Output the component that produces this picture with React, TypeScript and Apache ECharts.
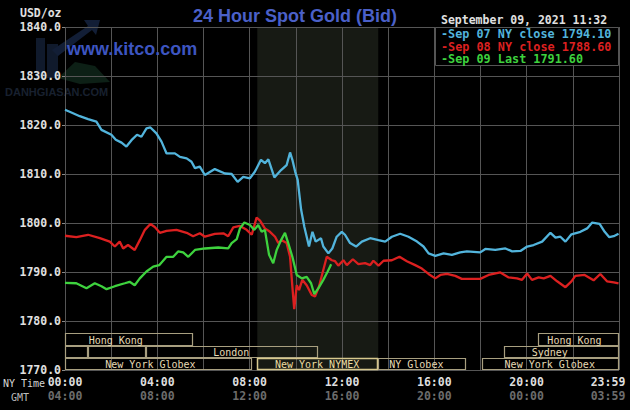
import React, { useEffect, useRef } from 'react';
import * as echarts from 'echarts';

// [hour of day (NY time), price USD/oz]
const sep07: [number, number][] = [
  [0.0, 1823.1], [0.3, 1822.5], [0.64, 1821.8], [1.0, 1821.2], [1.36, 1820.7], [1.58, 1819.0], [2.01, 1818.0], [2.2, 1817.0],
  [2.45, 1816.4], [2.66, 1815.6], [2.88, 1816.9], [3.12, 1818.0], [3.31, 1817.6], [3.53, 1819.3], [3.7, 1819.5], [3.96, 1818.3],
  [4.18, 1816.6], [4.4, 1814.2], [4.76, 1814.2], [4.98, 1813.5], [5.27, 1813.2], [5.48, 1812.5], [5.63, 1811.2], [5.84, 1811.5],
  [6.06, 1809.8], [6.49, 1811.0], [6.93, 1810.1], [7.22, 1810.0], [7.48, 1808.4], [7.72, 1809.4], [8.01, 1809.1], [8.23, 1810.5],
  [8.49, 1812.9], [8.66, 1812.2], [8.81, 1813.0], [9.07, 1809.3], [9.36, 1810.8], [9.6, 1811.8], [9.75, 1814.4], [9.85, 1812.9],
  [9.97, 1810.5], [10.08, 1808.8], [10.23, 1802.7], [10.37, 1799.2], [10.57, 1795.2], [10.72, 1798.2], [10.86, 1796.2], [11.09, 1796.9],
  [11.19, 1795.2], [11.41, 1793.8], [11.58, 1794.8], [11.77, 1797.2], [11.99, 1798.2], [12.13, 1797.6], [12.35, 1795.9], [12.61, 1795.2],
  [12.86, 1796.2], [13.22, 1796.9], [13.58, 1796.5], [13.87, 1796.2], [14.16, 1797.2], [14.52, 1797.8], [14.88, 1797.2], [15.25, 1796.2],
  [15.53, 1795.2], [15.75, 1793.8], [16.04, 1793.3], [16.4, 1793.8], [16.76, 1793.5], [17.12, 1794.0], [17.41, 1794.2], [17.99, 1794.0],
  [18.21, 1794.7], [18.64, 1794.5], [19.08, 1794.8], [19.37, 1794.2], [19.73, 1794.3], [20.02, 1795.2], [20.3, 1795.5], [20.67, 1796.2],
  [21.03, 1798.0], [21.25, 1797.0], [21.46, 1797.2], [21.68, 1796.2], [21.94, 1797.7], [22.33, 1798.2], [22.62, 1798.9], [22.84, 1800.1],
  [23.16, 1799.8], [23.38, 1798.2], [23.58, 1797.1], [23.77, 1797.3], [23.98, 1797.8],
];

const sep08: [number, number][] = [
  [0.0, 1797.4], [0.49, 1797.1], [1.0, 1797.6], [1.51, 1796.9], [1.94, 1796.2], [2.16, 1795.2], [2.37, 1796.2], [2.52, 1794.8],
  [2.73, 1795.5], [3.02, 1794.5], [3.24, 1796.5], [3.46, 1798.6], [3.7, 1799.8], [3.89, 1799.2], [4.11, 1798.0], [4.4, 1798.4],
  [4.83, 1798.6], [5.27, 1798.0], [5.55, 1797.3], [5.84, 1797.9], [6.06, 1797.2], [6.49, 1797.8], [6.86, 1797.9], [7.07, 1797.3],
  [7.29, 1799.1], [7.58, 1799.4], [7.87, 1798.6], [8.09, 1797.6], [8.3, 1801.1], [8.45, 1800.5], [8.66, 1798.9], [8.88, 1798.2],
  [9.1, 1797.2], [9.24, 1795.9], [9.39, 1796.5], [9.6, 1795.9], [9.75, 1793.1], [9.85, 1787.0], [9.93, 1782.4], [10.04, 1787.3],
  [10.14, 1786.3], [10.28, 1788.4], [10.47, 1787.3], [10.69, 1785.3], [10.83, 1785.0], [11.0, 1787.0], [11.19, 1790.4], [11.34, 1793.1],
  [11.56, 1792.4], [11.7, 1792.2], [11.84, 1791.3], [12.06, 1792.4], [12.21, 1791.4], [12.47, 1792.6], [12.71, 1791.6], [13.0, 1791.8],
  [13.22, 1791.4], [13.36, 1792.3], [13.58, 1791.3], [13.8, 1792.3], [14.16, 1792.4], [14.49, 1793.1], [14.81, 1792.2], [15.17, 1791.4],
  [15.46, 1790.7], [15.75, 1789.6], [16.04, 1788.7], [16.26, 1789.4], [16.55, 1789.6], [16.91, 1789.2], [17.19, 1788.6], [17.99, 1788.6],
  [18.35, 1789.4], [18.86, 1789.9], [19.22, 1788.9], [19.58, 1788.7], [19.8, 1788.4], [20.02, 1789.7], [20.23, 1788.4], [20.52, 1788.9],
  [20.74, 1788.7], [21.03, 1789.2], [21.32, 1788.1], [21.68, 1786.9], [21.94, 1788.1], [22.11, 1789.2], [22.51, 1789.4], [22.9, 1788.3],
  [23.19, 1789.6], [23.48, 1788.1], [23.77, 1787.9], [23.98, 1787.7],
];

const sep09: [number, number][] = [
  [0.0, 1787.8], [0.49, 1787.7], [0.93, 1786.7], [1.29, 1787.7], [1.58, 1787.1], [1.8, 1786.5], [2.16, 1787.1], [2.59, 1787.7],
  [2.8, 1788.0], [3.02, 1787.3], [3.24, 1788.7], [3.53, 1790.1], [3.82, 1791.1], [4.08, 1791.4], [4.4, 1793.1], [4.69, 1793.1],
  [4.9, 1794.2], [5.12, 1794.0], [5.34, 1793.1], [5.63, 1794.5], [6.06, 1794.8], [6.64, 1795.0], [7.07, 1794.8], [7.22, 1795.9],
  [7.44, 1796.7], [7.58, 1798.9], [7.77, 1800.1], [8.01, 1799.6], [8.2, 1798.6], [8.37, 1799.6], [8.52, 1798.2], [8.66, 1798.6],
  [8.84, 1793.5], [9.02, 1791.8], [9.17, 1794.5], [9.36, 1796.5], [9.53, 1798.0], [9.67, 1795.9], [9.85, 1793.1], [10.04, 1789.4],
  [10.26, 1788.7], [10.47, 1789.0], [10.66, 1787.7], [10.8, 1785.5], [10.98, 1786.7], [11.19, 1788.4], [11.38, 1790.1], [11.53, 1791.6],
];

const seriesNames = ['Sep 07 NY close 1794.10', 'Sep 08 NY close 1788.60', 'Sep 09 Last 1791.60'];
const seriesColors = ['#52b4dc', '#dc2020', '#3ed23e'];

const xTickHours = [0, 4, 8, 12, 16, 20, 24];
const xLabelsNY = ['00:00', '04:00', '08:00', '12:00', '16:00', '20:00', '23:59'];
const xLabelsGMT = ['04:00', '08:00', '12:00', '16:00', '20:00', '00:00', '03:59'];

// NYMEX pit session (shaded), hours
const pitSession: [number, number] = [8.33, 13.57];

// [start hour, end hour, row, label, label centre hour, highlighted]
const sessions: [number, number, number, string, number, boolean][] = [
  [0, 5.53, 0, 'Hong Kong', 2.2, false],
  [20.5, 24, 0, 'Hong Kong', 22.07, false],
  [0, 1.0, 1, '', 0.5, false],
  [1.0, 3.53, 1, '', 2.3, false],
  [3.53, 10.96, 1, 'London', 7.2, false],
  [19.0, 24, 1, 'Sydney', 21.0, false],
  [0, 8.09, 2, 'New York Globex', 3.7, false],
  [8.32, 13.57, 2, 'New York NYMEX', 10.92, true],
  [13.57, 17.37, 2, 'NY Globex', 15.22, false],
  [18.07, 24, 2, 'New York Globex', 21.0, false],
];
const rowTops = [1777.5, 1775, 1772.5];
const rowHeight = 2.5;

const mono = '"DejaVu Sans Mono", "Liberation Mono", monospace';
const sans = '"Liberation Sans", Arial, sans-serif';

function txt(x: number, y: number, text: string, fill: string, font: string, align = 'left', z = 50) {
  return {
    type: 'text',
    x,
    y,
    z,
    silent: true,
    style: { text, fill, font, align, textAlign: align, verticalAlign: 'middle', textVerticalAlign: 'middle' },
  };
}

export default function App() {
  const ref = useRef<HTMLDivElement>(null);
  useEffect(() => {
    if (!ref.current) return;
    const chart = echarts.init(ref.current, null, { renderer: 'svg' });

    const lineSeries = [sep08, sep07, sep09].map((d, k) => {
      const idx = [1, 0, 2][k];
      return {
        type: 'line',
        name: seriesNames[idx],
        data: d,
        showSymbol: false,
        symbol: 'none',
        z: 3 + k,
        lineStyle: { color: seriesColors[idx], width: 2.3 },
        itemStyle: { color: seriesColors[idx] },
      };
    });

    const option: any = {
      backgroundColor: '#000000',
      animation: false,
      grid: { left: 65, right: 11, top: 27, bottom: 40, containLabel: false, outerBoundsMode: 'none' },
      xAxis: {
        type: 'value',
        min: 0,
        max: 24,
        interval: 2,
        axisLine: { show: false },
        axisTick: { show: false },
        splitLine: { show: true, lineStyle: { color: '#555555', width: 1 } },
        axisLabel: {
          show: true,
          margin: 5,
          hideOverlap: false,
          showMinLabel: true,
          showMaxLabel: true,
          lineHeight: 14,
          formatter: (v: number) => {
            const i = xTickHours.indexOf(v);
            if (i < 0) return '';
            if (v === 24) return `{c|${xLabelsNY[i]}}\n{d|${xLabelsGMT[i]}}`;
            return `{a|${xLabelsNY[i]}}\n{b|${xLabelsGMT[i]}}`;
          },
          rich: {
            a: { color: '#dedede', fontFamily: mono, fontWeight: 'bold', fontSize: 11.5, lineHeight: 14 },
            b: { color: '#6c6c6c', fontFamily: mono, fontWeight: 'bold', fontSize: 11.5, lineHeight: 14 },
            c: { color: '#dedede', fontFamily: mono, fontWeight: 'bold', fontSize: 11.5, lineHeight: 14, padding: [0, 22, 0, 0] },
            d: { color: '#6c6c6c', fontFamily: mono, fontWeight: 'bold', fontSize: 11.5, lineHeight: 14, padding: [0, 22, 0, 0] },
          },
        },
      },
      yAxis: {
        type: 'value',
        min: 1770,
        max: 1840,
        interval: 10,
        axisLine: { show: false },
        axisTick: { show: true, length: 3, lineStyle: { color: '#888888' } },
        splitLine: { show: true, lineStyle: { color: '#555555', width: 1 } },
        axisLabel: {
          formatter: (v: number) => v.toFixed(1),
          color: '#e0e0e0',
          fontFamily: mono,
          fontWeight: 'bold',
          fontSize: 11.5,
          margin: 4,
        },
      },
      series: [
        {
          type: 'custom',
          z: -5,
          silent: true,
          data: [pitSession],
          renderItem: (_p: any, api: any) => {
            const a = api.coord([pitSession[0], 1840]);
            const b = api.coord([pitSession[1], 1770]);
            return {
              type: 'rect',
              shape: { x: a[0], y: a[1], width: b[0] - a[0], height: b[1] - a[1] },
              style: { fill: '#171a14' },
            };
          },
        },
        {
          type: 'custom',
          z: 2,
          silent: true,
          data: sessions.map((s) => [s[0], s[1]]),
          renderItem: (p: any, api: any) => {
            const s = sessions[p.dataIndex];
            const top = rowTops[s[2]];
            const a = api.coord([s[0], top]);
            const b = api.coord([s[1], top - rowHeight]);
            const c = api.coord([s[4], top]);
            const x0 = Math.round(a[0]) + 0.5;
            const x1 = Math.round(b[0]) - 0.5;
            const y0 = Math.round(a[1]) + 0.5;
            const y1 = Math.round(b[1]) - 0.5;
            const stroke = s[5] ? '#d8c98e' : '#a89f80';
            return {
              type: 'group',
              children: [
                {
                  type: 'rect',
                  shape: { x: x0, y: y0, width: x1 - x0, height: y1 - y0 },
                  style: { fill: 'none', stroke, lineWidth: s[5] ? 1.5 : 1.2 },
                },
                {
                  type: 'text',
                  x: c[0],
                  y: (y0 + y1) / 2 + 0.5,
                  style: {
                    text: s[3],
                    fill: s[5] ? '#ecdca0' : '#e6dab4',
                    font: `10px ${mono}`,
                    align: 'center',
                    textAlign: 'center',
                    verticalAlign: 'middle',
                    textVerticalAlign: 'middle',
                  },
                },
              ],
            };
          },
        },
        ...lineSeries,
      ],
      graphic: [
        // faint logo watermark
        {
          type: 'group',
          z: -1,
          silent: true,
          children: [
            { type: 'rect', shape: { x: 36, y: 38, width: 9, height: 40 }, style: { fill: '#101a2c' } },
            { type: 'rect', shape: { x: 47, y: 44, width: 11, height: 34 }, style: { fill: '#101a2c' } },
            { type: 'polygon', shape: { points: [[52, 50], [88, 26], [84, 20], [100, 20], [96, 35], [92, 30], [58, 56]] }, style: { fill: '#121e36' } },
            { type: 'polygon', shape: { points: [[58, 78], [75, 62], [95, 66], [110, 82], [80, 84]] }, style: { fill: '#0d2016' } },
          ],
        },
        txt(5, 92, 'DANHGIASAN.COM', '#18202f', `bold 11px ${sans}`, 'left', -1),
        txt(67, 49, 'www.kitco.com', '#3d55c0', `bold 18px ${sans}`, 'left', 10),
        txt(61.5, 13, 'USD/oz', '#e0e0e0', `bold 11.5px ${mono}`, 'right'),
        txt(295, 16, '24 Hour Spot Gold (Bid)', '#4b60c8', `bold 18px ${sans}`, 'center'),
        txt(441, 19.5, 'September 09, 2021 11:32', '#e0e0e0', `bold 11.5px ${mono}`),
        {
          type: 'rect',
          z: 40,
          silent: true,
          shape: { x: 435.5, y: 27.5, width: 183, height: 38 },
          style: { fill: '#000000', stroke: '#555555', lineWidth: 1 },
        },
        txt(441, 34, '-' + seriesNames[0], seriesColors[0], `bold 11.8px ${mono}`),
        txt(441, 46.5, '-' + seriesNames[1], seriesColors[1], `bold 11.8px ${mono}`),
        txt(441, 59, '-' + seriesNames[2], seriesColors[2], `bold 11.8px ${mono}`),
        txt(3, 383, 'NY Time', '#d6d6d6', `10px ${mono}`),
        txt(11, 397, 'GMT', '#bdbdbd', `10px ${mono}`),
      ],
    };

    chart.setOption(option);
    return () => chart.dispose();
  }, []);

  return (
    <div
      ref={ref}
      style={{ position: 'fixed', left: 0, top: 0, width: 630, height: 410, background: '#000' }}
    />
  );
}
